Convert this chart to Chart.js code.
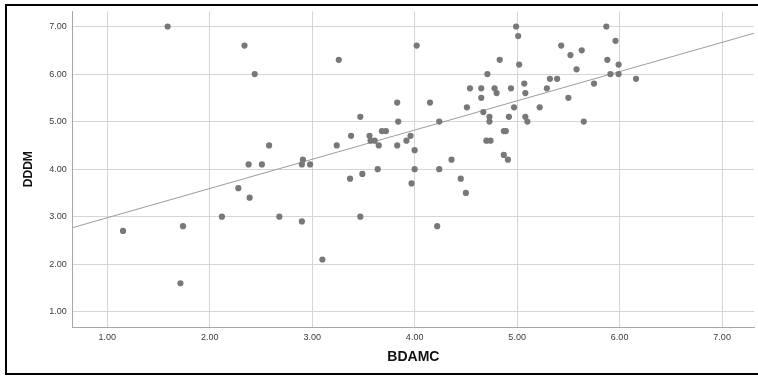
<!DOCTYPE html>
<html>
<head>
<meta charset="utf-8">
<script src="https://cdn.jsdelivr.net/npm/chart.js@4/dist/chart.umd.min.js"></script>
<style>
  html, body { margin: 0; padding: 0; background: #ffffff; overflow: hidden; }
  #wrap { position: relative; width: 758px; height: 376px; overflow: hidden; }
  #c { position: absolute; left: 0; top: 0; }
  #frame { position: absolute; left: 5px; top: 4px; width: 800px; height: 367px;
           border-left: 2px solid #000; border-top: 2px solid #000; border-bottom: 2px solid #000;
           pointer-events: none; }
</style>
</head>
<body>
<div id="wrap">
  <canvas id="c" width="758" height="376"></canvas>
  <div id="frame"></div>
</div>
<script>
// ---- data ----
const xTitle = 'BDAMC';
const yTitle = 'DDDM';
const bdamc = [
  1.59, 2.34, 2.44, 2.38, 2.28, 2.39, 1.155, 1.74, 1.715, 2.12,
  3.26, 4.02, 3.83, 4.15, 3.47, 3.84, 4.24, 3.38, 3.56, 3.68,
  3.72, 3.57, 3.61, 3.24, 3.65, 3.83, 3.92, 3.96, 4.00, 2.58,
  2.51, 2.90, 2.98, 2.91, 3.37, 3.49, 3.64, 4.00, 3.97, 4.24,
  4.36, 4.45, 4.50, 4.51, 4.54, 4.65, 4.65, 4.67, 4.71, 4.78,
  4.80, 4.83, 4.73, 4.73, 4.70, 4.74, 4.87, 4.89, 4.87, 4.91,
  4.99, 5.01, 5.02, 4.94, 5.07, 5.08, 4.97, 4.92, 5.08, 5.10,
  5.22, 5.29, 5.32, 5.39, 5.43, 5.52, 5.63, 5.58, 5.50, 5.65,
  5.75, 5.87, 5.96, 5.88, 5.99, 5.91, 5.99, 6.16, 2.68, 2.90,
  3.10, 3.47, 4.22
];
const dddm = [
  7.0, 6.6, 6.0, 4.1, 3.6, 3.4, 2.7, 2.8, 1.6, 3.0,
  6.3, 6.6, 5.4, 5.4, 5.1, 5.0, 5.0, 4.7, 4.7, 4.8,
  4.8, 4.6, 4.6, 4.5, 4.5, 4.5, 4.6, 4.7, 4.4, 4.5,
  4.1, 4.1, 4.1, 4.2, 3.8, 3.9, 4.0, 4.0, 3.7, 4.0,
  4.2, 3.8, 3.5, 5.3, 5.7, 5.7, 5.5, 5.2, 6.0, 5.7,
  5.6, 6.3, 5.1, 5.0, 4.6, 4.6, 4.8, 4.8, 4.3, 4.2,
  7.0, 6.8, 6.2, 5.7, 5.8, 5.6, 5.3, 5.1, 5.1, 5.0,
  5.3, 5.7, 5.9, 5.9, 6.6, 6.4, 6.5, 6.1, 5.5, 5.0,
  5.8, 7.0, 6.7, 6.3, 6.2, 6.0, 6.0, 5.9, 3.0, 2.9,
  2.1, 3.0, 2.8
];
const tickValues = [1, 2, 3, 4, 5, 6, 7];
const tickLabels = ['1.00', '2.00', '3.00', '4.00', '5.00', '6.00', '7.00'];
const xRange = [0.664, 7.311];
const yRange = [0.68, 7.318];
const fitIntercept = 2.362;
const fitSlope = 0.615;

// ---- build datasets ----
const points = bdamc.map((x, i) => ({ x: x, y: dddm[i] }));
const fitLine = xRange.map(x => ({ x: x, y: fitIntercept + fitSlope * x }));

function fixedTicks(scale) {
  scale.ticks = tickValues.map(v => ({ value: v }));
}
function tickLabel(value) {
  const i = tickValues.indexOf(value);
  return i >= 0 ? tickLabels[i] : '';
}

const tickFont = { family: "'Liberation Sans', Arial, sans-serif", size: 9 };
const gridColor = '#d6d6d6';
const axisColor = '#a8a8a8';

new Chart(document.getElementById('c'), {
  type: 'scatter',
  data: {
    datasets: [
      {
        type: 'line',
        data: fitLine,
        borderColor: '#9c9c9c',
        borderWidth: 1,
        pointRadius: 0,
        fill: false,
        order: 2
      },
      {
        data: points,
        backgroundColor: '#787878',
        borderColor: '#787878',
        borderWidth: 0,
        pointRadius: 3.1,
        order: 1
      }
    ]
  },
  options: {
    responsive: false,
    animation: false,
    devicePixelRatio: 1,
    layout: { padding: { left: 8, top: 10, right: 0, bottom: 5 } },
    plugins: { legend: { display: false }, tooltip: { enabled: false } },
    scales: {
      x: {
        type: 'linear',
        min: xRange[0],
        max: xRange[1],
        afterBuildTicks: fixedTicks,
        afterFit: s => { s.height = 44; },
        grid: { color: gridColor, drawTicks: false, lineWidth: 1 },
        border: { display: true, color: axisColor, width: 1 },
        ticks: { callback: tickLabel, font: tickFont, color: '#3a3a3a', padding: 5, maxRotation: 0, autoSkip: false },
        title: {
          display: true, text: xTitle, color: '#111',
          font: { family: "'Liberation Sans', Arial, sans-serif", size: 14, weight: 'bold' },
          padding: { top: 0, bottom: 5 }
        }
      },
      y: {
        type: 'linear',
        min: yRange[0],
        max: yRange[1],
        afterBuildTicks: fixedTicks,
        afterFit: s => { s.width = 64.7; },
        grid: { color: gridColor, drawTicks: false, lineWidth: 1 },
        border: { display: true, color: axisColor, width: 1 },
        ticks: { callback: tickLabel, font: tickFont, color: '#3a3a3a', padding: 6, autoSkip: false },
        title: {
          display: true, text: yTitle, color: '#111',
          font: { family: "'Liberation Sans', Arial, sans-serif", size: 12, weight: 'bold' },
          padding: { top: 13, bottom: 0 }
        }
      }
    }
  }
});
</script>
</body>
</html>
